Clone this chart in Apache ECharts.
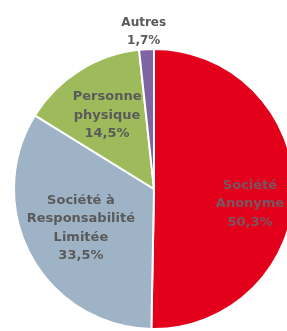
<!DOCTYPE html>
<html>
<head>
<meta charset="utf-8">
<script src="https://cdn.jsdelivr.net/npm/echarts@6/dist/echarts.min.js"></script>
<style>
  html, body { margin: 0; padding: 0; background: #fff; }
  #chart { width: 287px; height: 331px; }
</style>
</head>
<body>
<div id="chart"></div>
<script>
const categories = ['Société\nAnonyme', 'Société à\nResponsabilité\nLimitée', 'Personne\nphysique', 'Autres']
const shares = [50.3, 33.5, 14.5, 1.7]
const colors = ['#e2001a', '#9fb3c6', '#9dbb5a', '#8064a2']
const textColors = ['#7a5560', '#5a5a5a', '#5a5a5a', '#5a5a5a']
// label nudges from the default spot
const nudges = [[23, 14], [-9, 4], [-8, -12], [58, -2]]

const fmtPct = v => String(v).replace('.', ',') + '%'

const chart = echarts.init(document.getElementById('chart'))

chart.setOption({
  animation: false,
  series: [{
    type: 'pie',
    center: [154, 189],
    radius: [0, 140],
    startAngle: 90,
    clockwise: true,
    avoidLabelOverlap: false,
    itemStyle: { borderColor: '#fff', borderWidth: 2 },
    label: {
      position: 'inside',
      fontFamily: 'DejaVu Sans',
      fontWeight: 'bold',
      fontSize: 13,
      lineHeight: 18.5,
      align: 'center',
      formatter: p => p.name + '\n' + fmtPct(p.value)
    },
    labelLine: { show: false },
    labelLayout: p => ({ dx: nudges[p.dataIndex][0], dy: nudges[p.dataIndex][1] }),
    emphasis: { disabled: true },
    data: categories.map((name, i) => ({
      name,
      value: shares[i],
      itemStyle: { color: colors[i] },
      label: i === 3
        ? {
            color: textColors[i],
            position: 'outside',
            formatter: p => '{c|' + p.name + '}\n{c|' + fmtPct(p.value) + '}',
            rich: {
              c: {
                width: 50, align: 'center', fontSize: 12, lineHeight: 18,
                fontFamily: 'DejaVu Sans', fontWeight: 'bold', color: textColors[i]
              }
            }
          }
        : { color: textColors[i] }
    }))
  }]
})
</script>
</body>
</html>
